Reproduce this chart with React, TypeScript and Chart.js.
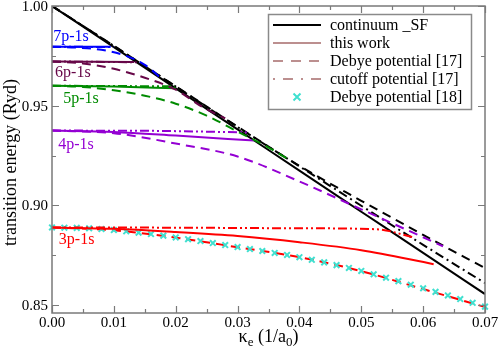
import React, { useEffect, useRef } from "react";
import { Chart, registerables } from "chart.js";
Chart.register(...registerables);

const FONT = "'Liberation Serif', 'Times New Roman', serif";

// ---------- axes ----------
const xTicks = [0, 0.01, 0.02, 0.03, 0.04, 0.05, 0.06, 0.07];
const yTicks = [0.85, 0.9, 0.95, 1.0];
const xMin = 0, xMax = 0.07, yMin = 0.846, yMax = 1.0;

// ---------- continuum lowering (black) ----------
const contKappa = [0, 0.01, 0.02, 0.03, 0.04, 0.05, 0.06, 0.07];
const contSF = [1.0, 0.9794, 0.9587, 0.9381, 0.9174, 0.8968, 0.8762, 0.8555];
const contDebye = [1.0, 0.98, 0.9597, 0.9395, 0.9198, 0.9023, 0.8852, 0.8685];
const contCutoff = [1.0, 0.98, 0.9596, 0.9393, 0.9196, 0.8998, 0.8802, 0.861];

// ---------- 7p-1s ----------
const k7Solid = [0, 0.0095];
const e7Solid = [0.9796, 0.9795];
const k7Cut = [0, 0.0099];
const e7Cut = [0.9796, 0.9794];
const k7Deb = [0, 0.004, 0.008, 0.012, 0.015, 0.018];
const e7Deb = [0.9796, 0.9791, 0.978, 0.975, 0.9705, 0.9628];

// ---------- 6p-1s ----------
const k6Solid = [0, 0.0133];
const e6Solid = [0.9722, 0.9719];
const k6Cut = [0, 0.0137];
const e6Cut = [0.9722, 0.9718];
const k6Deb = [0, 0.005, 0.01, 0.015, 0.02, 0.0245, 0.028];
const e6Deb = [0.9722, 0.9712, 0.9685, 0.964, 0.958, 0.949, 0.9437];

// ---------- 5p-1s ----------
const k5Solid = [0, 0.01, 0.02];
const e5Solid = [0.96, 0.9596, 0.9587];
const k5Cut = [0, 0.0198];
const e5Cut = [0.96, 0.9597];
const k5Deb = [0, 0.005, 0.01, 0.015, 0.02, 0.025, 0.03, 0.035, 0.038];
const e5Deb = [0.96, 0.9594, 0.9577, 0.955, 0.951, 0.945, 0.937, 0.929, 0.9235];

// ---------- 4p-1s ----------
const k4Solid = [0, 0.01, 0.02, 0.0327];
const e4Solid = [0.9375, 0.9368, 0.935, 0.9325];
const k4Cut = [0, 0.015, 0.0315];
const e4Cut = [0.9375, 0.9374, 0.9366];
const k4Deb = [0, 0.01, 0.02, 0.03, 0.04, 0.05, 0.06, 0.0632];
const e4Deb = [0.9375, 0.9362, 0.931, 0.9245, 0.912, 0.898, 0.884, 0.8795];

// ---------- 3p-1s ----------
const k3Solid = [0, 0.01, 0.02, 0.03, 0.04, 0.05, 0.0617];
const e3Solid = [0.8889, 0.8882, 0.8866, 0.8846, 0.8815, 0.8775, 0.8705];
const k3Cut = [0, 0.02, 0.04, 0.0525, 0.0584];
const e3Cut = [0.8889, 0.8888, 0.8885, 0.888, 0.884];
const k3Deb = [0, 0.01, 0.02, 0.03, 0.04, 0.05, 0.06, 0.07];
const e3Deb = [0.8889, 0.8875, 0.8838, 0.879, 0.874, 0.867, 0.858, 0.849];
const k3Deb18 = [
  0, 0.002, 0.004, 0.006, 0.008, 0.01, 0.012, 0.014, 0.016, 0.018, 0.02, 0.022,
  0.024, 0.026, 0.028, 0.03, 0.032, 0.034, 0.036, 0.038, 0.04, 0.042, 0.044,
  0.046, 0.048, 0.05, 0.052, 0.054, 0.056, 0.058, 0.06, 0.062, 0.064, 0.066,
  0.068, 0.07,
];
const e3Deb18 = [
  0.8889, 0.8888, 0.8887, 0.8885, 0.8881, 0.8876, 0.887, 0.8863, 0.8856,
  0.8848, 0.8839, 0.883, 0.8821, 0.8811, 0.8801, 0.8791, 0.8781, 0.8771,
  0.8761, 0.8751, 0.874, 0.8727, 0.8714, 0.87, 0.8686, 0.8671, 0.8654, 0.8637,
  0.862, 0.8602, 0.8584, 0.8566, 0.8548, 0.853, 0.8511, 0.8492,
];

// ---------- labels ----------
const lineLabels = ["7p-1s", "6p-1s", "5p-1s", "4p-1s", "3p-1s"];
const lineLabelKappa = [0.0002, 0.0005, 0.0018, 0.001, 0.0011];
const lineLabelEnergy = [0.9845, 0.9665, 0.9535, 0.9305, 0.8825];
const lineColors = ["#0000ff", "#670748", "#008b00", "#9400d3", "#ff0000"];

const legendLabels = [
  "continuum _SF",
  "this work",
  "Debye potential [17]",
  "cutoff potential [17]",
  "Debye potential [18]",
];

const BLACK = "#000000";
const ROSY = "#bc8f8f";
const TURQ = "#40e0d0";
const DASH = [9, 6];
const DASHDOT = [9, 4, 2, 4];
const DASHDOTDOT = [9, 3, 2, 3, 2, 3];

function pts(k: number[], e: number[]) {
  return k.map((x, i) => ({ x, y: e[i] }));
}

function line(k: number[], e: number[], color: string, dash: number[] = [], width = 2) {
  return {
    data: pts(k, e),
    showLine: true,
    borderColor: color,
    backgroundColor: color,
    borderWidth: width,
    borderDash: dash,
    pointRadius: 0,
    pointHoverRadius: 0,
    tension: 0.3,
    cubicInterpolationMode: "monotone" as const,
  };
}

const decor = {
  id: "decor",
  afterDatasetsDraw(chart: any) {
    const { ctx, chartArea: a, scales } = chart;
    const xs = scales.x;
    const ys = scales.y;
    ctx.save();
    // annotation labels
    ctx.font = `16px ${FONT}`;
    ctx.textAlign = "left";
    ctx.textBaseline = "middle";
    lineLabels.forEach((t, i) => {
      ctx.fillStyle = lineColors[i];
      ctx.fillText(t, xs.getPixelForValue(lineLabelKappa[i]), ys.getPixelForValue(lineLabelEnergy[i]));
    });

    // frame
    ctx.strokeStyle = "#7a7a7a";
    ctx.lineWidth = 1.5;
    ctx.strokeRect(a.left, a.top, a.right - a.left, a.bottom - a.top);

    // ticks (inward, mirrored)
    ctx.lineWidth = 1.2;
    const major = 7, minor = 4;
    for (let i = 0; i <= 14; i++) {
      const v = i * 0.005;
      const px = Math.round(xs.getPixelForValue(v)) + 0.5;
      const len = i % 2 === 0 ? major : minor;
      ctx.beginPath();
      ctx.moveTo(px, a.bottom);
      ctx.lineTo(px, a.bottom - len);
      ctx.moveTo(px, a.top);
      ctx.lineTo(px, a.top + len);
      ctx.stroke();
    }
    for (let i = 0; i <= 6; i++) {
      const v = 0.85 + i * 0.025;
      const py = Math.round(ys.getPixelForValue(v)) + 0.5;
      const len = i % 2 === 0 ? major : minor;
      ctx.beginPath();
      ctx.moveTo(a.left, py);
      ctx.lineTo(a.left + len, py);
      ctx.moveTo(a.right, py);
      ctx.lineTo(a.right - len, py);
      ctx.stroke();
    }

    // tick labels
    ctx.fillStyle = "#000";
    ctx.font = `15px ${FONT}`;
    ctx.textAlign = "center";
    ctx.textBaseline = "top";
    xTicks.forEach((v) => {
      ctx.fillText(v.toFixed(2), xs.getPixelForValue(v), a.bottom + 3);
    });
    ctx.textAlign = "right";
    ctx.textBaseline = "middle";
    yTicks.forEach((v) => {
      ctx.fillText(v.toFixed(2), a.left - 4, ys.getPixelForValue(v) + 1);
    });

    // axis titles
    ctx.font = `18px ${FONT}`;
    ctx.save();
    ctx.translate(11, (a.top + a.bottom) / 2 + 3);
    ctx.rotate(-Math.PI / 2);
    ctx.textAlign = "center";
    ctx.textBaseline = "middle";
    ctx.fillText("transition energy (Ryd)", 0, 0);
    ctx.restore();

    // x title with subscripts
    const parts: [string, boolean][] = [["κ", false], ["e", true], [" (1/a", false], ["0", true], [")", false]];
    const big = `18px ${FONT}`, small = `13px ${FONT}`;
    let total = 0;
    parts.forEach(([t, sub]) => {
      ctx.font = sub ? small : big;
      total += ctx.measureText(t).width;
    });
    let cx = (a.left + a.right) / 2 - total / 2;
    const base = 342;
    ctx.textAlign = "left";
    ctx.textBaseline = "alphabetic";
    parts.forEach(([t, sub]) => {
      ctx.font = sub ? small : big;
      ctx.fillText(t, cx, sub ? base + 4 : base);
      cx += ctx.measureText(t).width;
    });

    // legend
    const lx = 268, ly = 14, lw = 203, lh = 95;
    ctx.fillStyle = "#fff";
    ctx.fillRect(lx, ly, lw, lh);
    ctx.strokeStyle = "#8a8a8a";
    ctx.lineWidth = 1.5;
    ctx.strokeRect(lx + 0.5, ly + 0.5, lw, lh);
    const rows = [25, 43, 61, 79, 97];
    const styles: { c: string; d: number[] }[] = [
      { c: BLACK, d: [] },
      { c: ROSY, d: [] },
      { c: ROSY, d: [10, 8] },
      { c: ROSY, d: [2, 8, 10, 8] },
    ];
    rows.forEach((ry, i) => {
      if (i < 4) {
        ctx.strokeStyle = styles[i].c;
        ctx.lineWidth = 2;
        ctx.setLineDash(styles[i].d);
        ctx.beginPath();
        ctx.moveTo(273, ry);
        ctx.lineTo(321, ry);
        ctx.stroke();
        ctx.setLineDash([]);
      } else {
        ctx.strokeStyle = TURQ;
        ctx.lineWidth = 2;
        const c = 297, r = 3.5;
        ctx.beginPath();
        ctx.moveTo(c - r, ry - r);
        ctx.lineTo(c + r, ry + r);
        ctx.moveTo(c + r, ry - r);
        ctx.lineTo(c - r, ry + r);
        ctx.stroke();
      }
      ctx.fillStyle = "#000";
      ctx.font = `16px ${FONT}`;
      ctx.textAlign = "left";
      ctx.textBaseline = "middle";
      ctx.fillText(legendLabels[i], 330, ry + 1);
    });
    ctx.restore();
  },
};

export default function App() {
  const ref = useRef<HTMLCanvasElement>(null);
  useEffect(() => {
    document.body.style.margin = "0";
    const canvas = ref.current!;
    const datasets: any[] = [
      line(k7Deb, e7Deb, lineColors[0], DASH),
      line(k7Cut, e7Cut, lineColors[0], DASHDOTDOT),
      line(k7Solid, e7Solid, lineColors[0]),
      line(k6Deb, e6Deb, lineColors[1], DASH),
      line(k6Cut, e6Cut, lineColors[1], DASHDOTDOT),
      line(k6Solid, e6Solid, lineColors[1]),
      line(k5Deb, e5Deb, lineColors[2], DASH),
      line(k5Cut, e5Cut, lineColors[2], DASHDOTDOT),
      line(k5Solid, e5Solid, lineColors[2]),
      line(k4Deb, e4Deb, lineColors[3], DASH),
      line(k4Cut, e4Cut, lineColors[3], DASHDOTDOT),
      line(k4Solid, e4Solid, lineColors[3]),
      line(k3Cut, e3Cut, lineColors[4], DASHDOTDOT),
      line(k3Solid, e3Solid, lineColors[4]),
      {
        data: pts(k3Deb18, e3Deb18),
        showLine: false,
        pointStyle: "crossRot",
        pointRadius: 4,
        pointBorderWidth: 2,
        borderColor: TURQ,
        backgroundColor: TURQ,
        clip: false,
      },
      line(k3Deb, e3Deb, lineColors[4], DASH),
      line(contKappa, contDebye, BLACK, DASH),
      line(contKappa, contCutoff, BLACK, DASHDOT),
      line(contKappa, contSF, BLACK, [], 2),
    ];
    const chart = new Chart(canvas, {
      type: "scatter",
      data: { datasets },
      options: {
        animation: false,
        responsive: false,
        devicePixelRatio: 1,
        layout: { padding: { left: 52, top: 5, right: 13, bottom: 41 } },
        plugins: { legend: { display: false }, tooltip: { enabled: false } },
        events: [],
        scales: {
          x: { type: "linear", min: xMin, max: xMax, display: false },
          y: { type: "linear", min: yMin, max: yMax, display: false },
        },
      },
      plugins: [decor],
    });
    return () => chart.destroy();
  }, []);
  return (
    <div style={{ position: "fixed", left: 0, top: 0, width: 498, height: 354, background: "#fff" }}>
      <canvas ref={ref} width={498} height={354} style={{ width: 498, height: 354, display: "block" }} />
    </div>
  );
}
